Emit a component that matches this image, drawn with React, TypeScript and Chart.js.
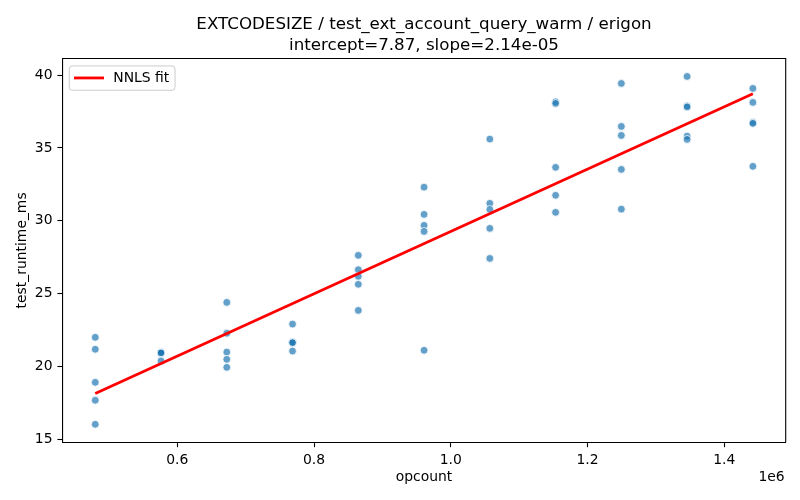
import { useEffect, useRef } from "react";
import { Chart, registerables } from "chart.js";

Chart.register(...registerables);

// opcount levels (x) and the runtimes measured at each level (y)
const opcountLevels = [480000, 576180, 672360, 768540, 864720, 960900, 1057080, 1153260, 1249440, 1345620, 1441800];
const runtimeByLevel: number[][] = [
  [22.0, 21.18, 18.91, 17.68, 16.03],
  [21.0, 20.97, 20.95, 20.93, 20.38],
  [24.4, 22.28, 20.99, 20.49, 19.94],
  [22.91, 21.68, 21.62, 21.06, 21.64],
  [27.63, 26.64, 26.19, 25.64, 23.85],
  [32.31, 30.44, 29.69, 29.27, 21.11],
  [35.61, 31.2, 30.78, 29.48, 27.42],
  [38.17, 38.06, 33.67, 31.75, 30.58],
  [39.43, 36.48, 35.86, 33.53, 30.8],
  [39.91, 37.89, 37.82, 35.81, 35.59],
  [39.09, 38.13, 36.75, 36.69, 33.74],
];
// NNLS fit line end points
const fitX = [480000, 1441800];
const fitY = [18.14, 38.72];

const xTicks = [600000, 800000, 1000000, 1200000, 1400000];
const yTicks = [15, 20, 25, 30, 35, 40];

const titleLines = ["EXTCODESIZE / test_ext_account_query_warm / erigon", "intercept=7.87, slope=2.14e-05"];

const FONT = "'DejaVu Sans', sans-serif";

// spines on top/right, legend box inside the axes, the "1e6" offset text
const extras = {
  id: "extras",
  afterDraw(chart: Chart) {
    const { ctx, chartArea: a } = chart;
    ctx.save();
    ctx.strokeStyle = "#000";
    ctx.lineWidth = 1.1;
    ctx.beginPath();
    ctx.moveTo(a.left, a.top);
    ctx.lineTo(a.right, a.top);
    ctx.lineTo(a.right, a.bottom);
    ctx.stroke();

    // legend
    const bx = a.left + 7, by = a.top + 7.5, bw = 105.7, bh = 24.3;
    ctx.beginPath();
    ctx.roundRect(bx, by, bw, bh, 3);
    ctx.fillStyle = "rgba(255,255,255,0.8)";
    ctx.fill();
    ctx.strokeStyle = "#cccccc";
    ctx.lineWidth = 1;
    ctx.stroke();
    ctx.beginPath();
    ctx.moveTo(bx + 4.7, by + 12);
    ctx.lineTo(bx + 34.7, by + 12);
    ctx.strokeStyle = "red";
    ctx.lineWidth = 2.8;
    ctx.stroke();
    ctx.fillStyle = "#000";
    ctx.font = `13.9px ${FONT}`;
    ctx.textBaseline = "middle";
    ctx.textAlign = "left";
    ctx.fillText("NNLS fit", bx + 44, by + 12.5);

    ctx.textAlign = "right";
    ctx.fillText("1e6", a.right - 1, 477);
    ctx.restore();
  },
};

export default function App() {
  const chartRef = useRef<HTMLCanvasElement | null>(null);

  useEffect(() => {
    const canvas = chartRef.current;
    if (!canvas) return;

    const points = opcountLevels.flatMap((x, i) => runtimeByLevel[i].map((y) => ({ x, y })));
    const fit = fitX.map((x, i) => ({ x, y: fitY[i] }));

    const chart = new Chart(canvas, {
      type: "scatter",
      data: {
        datasets: [
          {
            type: "line",
            label: "NNLS fit",
            data: fit,
            borderColor: "red",
            borderWidth: 2.8,
            pointRadius: 0,
            fill: false,
            order: 0,
          },
          {
            label: "runs",
            data: points,
            backgroundColor: "rgba(31,119,180,0.7)",
            borderColor: "#ffffff",
            borderWidth: 0.8,
            pointRadius: 3.9,
            order: 1,
          },
        ],
      },
      options: {
        animation: false,
        responsive: true,
        maintainAspectRatio: false,
        layout: { padding: { left: 0, right: 14.3, top: 0, bottom: 0 } },
        plugins: {
          legend: { display: false },
          tooltip: { enabled: false },
          title: {
            display: true,
            fullSize: false,
            text: titleLines,
            color: "#000",
            font: { family: FONT, size: 16.7, weight: "normal", lineHeight: 1.25 },
            padding: { top: 14.1, bottom: 2.6 },
          },
        },
        scales: {
          x: {
            type: "linear",
            min: 431800,
            max: 1489800,
            afterBuildTicks: (scale) => {
              scale.ticks = xTicks.map((v) => ({ value: v }));
            },
            afterFit: (scale) => {
              scale.height = 57.7;
            },
            ticks: {
              color: "#000",
              font: { family: FONT, size: 13.9 },
              padding: 4.9,
              maxRotation: 0,
              callback: (v) => (Number(v) / 1e6).toFixed(1),
            },
            grid: { drawOnChartArea: false, tickLength: 4.9, color: "#000", tickWidth: 1.1 },
            border: { display: true, color: "#000", width: 1.1 },
            title: {
              display: true,
              text: "opcount",
              color: "#000",
              font: { family: FONT, size: 13.9 },
              padding: { top: 0, bottom: 14.7 },
            },
          },
          y: {
            type: "linear",
            min: 14.794,
            max: 41.146,
            afterBuildTicks: (scale) => {
              scale.ticks = yTicks.map((v) => ({ value: v }));
            },
            afterFit: (scale) => {
              scale.width = 62.3;
            },
            ticks: {
              color: "#000",
              font: { family: FONT, size: 13.9 },
              padding: 4.9,
              callback: (v) => String(v),
            },
            grid: { drawOnChartArea: false, tickLength: 4.9, color: "#000", tickWidth: 1.1 },
            border: { display: true, color: "#000", width: 1.1 },
            title: {
              display: true,
              text: "test_runtime_ms",
              color: "#000",
              font: { family: FONT, size: 13.9 },
              padding: { top: 14.2, bottom: 0 },
            },
          },
        },
      },
      plugins: [extras],
    });

    return () => {
      chart.destroy();
    };
  }, []);

  return (
    <div style={{ position: "fixed", left: 0, top: 0, width: 800, height: 500, background: "#fff" }}>
      <canvas ref={chartRef}></canvas>
    </div>
  );
}
